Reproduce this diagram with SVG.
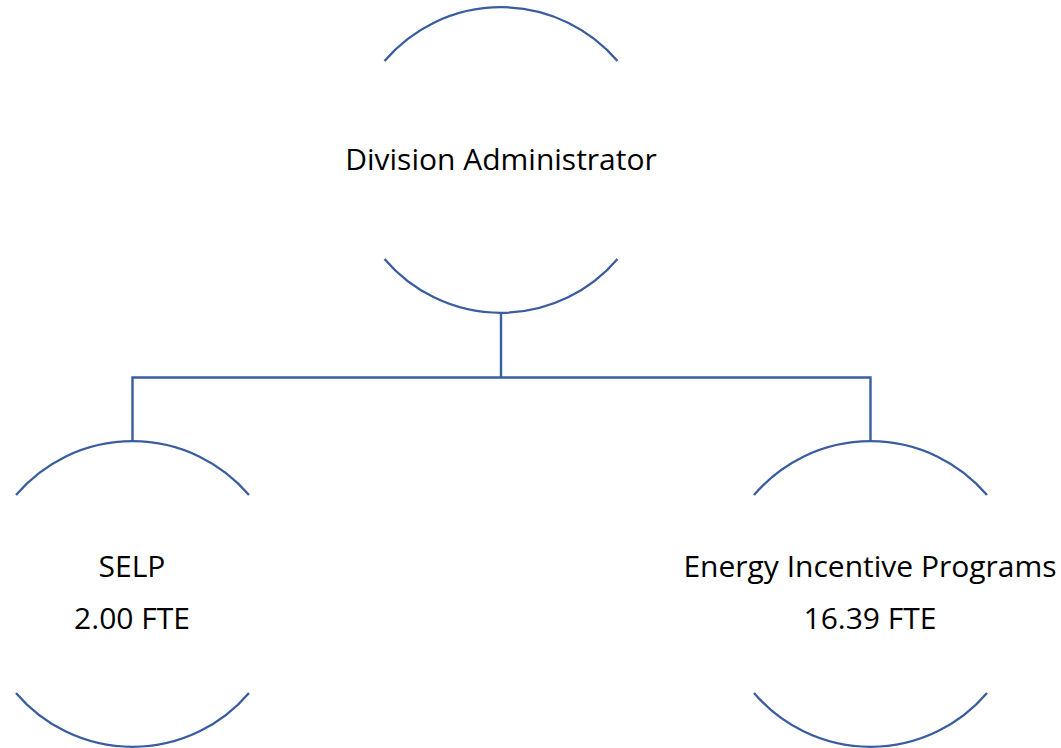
<svg xmlns="http://www.w3.org/2000/svg" width="1061" height="748" viewBox="0 0 1061 748">
<style>
.arc{fill:none;stroke:#3A5DA0;stroke-width:2.3}
.con{fill:none;stroke:#3A5DA0;stroke-width:2.4}
.t{font-family:"Open Sans","Noto Sans","Liberation Sans",sans-serif;font-size:30px;fill:#000;text-anchor:middle}
</style>
<rect width="1061" height="748" fill="#fff"/>
<g id="connectors">
<path class="con" d="M501,313 V377.5 M132.5,441 V377.5 H870.5 V441"/>
</g>
<g id="node-division-administrator">
<path class="arc" d="M384.5,61 A153,153 0 0 1 617.5,61"/>
<path class="arc" d="M384.5,259 A153,153 0 0 0 617.5,259"/>
<text class="t" x="501" y="170">Division Administrator</text>
</g>
<g id="node-selp">
<path class="arc" d="M16,495 A153,153 0 0 1 249,495"/>
<path class="arc" d="M16,693 A153,153 0 0 0 249,693"/>
<text class="t" x="132" y="577">SELP</text>
<text class="t" x="132" y="629">2.00 FTE</text>
</g>
<g id="node-energy-incentive-programs">
<path class="arc" d="M754,495 A153,153 0 0 1 987,495"/>
<path class="arc" d="M754,693 A153,153 0 0 0 987,693"/>
<text class="t" x="870" y="577">Energy Incentive Programs</text>
<text class="t" x="870" y="629">16.39 FTE</text>
</g>
</svg>
